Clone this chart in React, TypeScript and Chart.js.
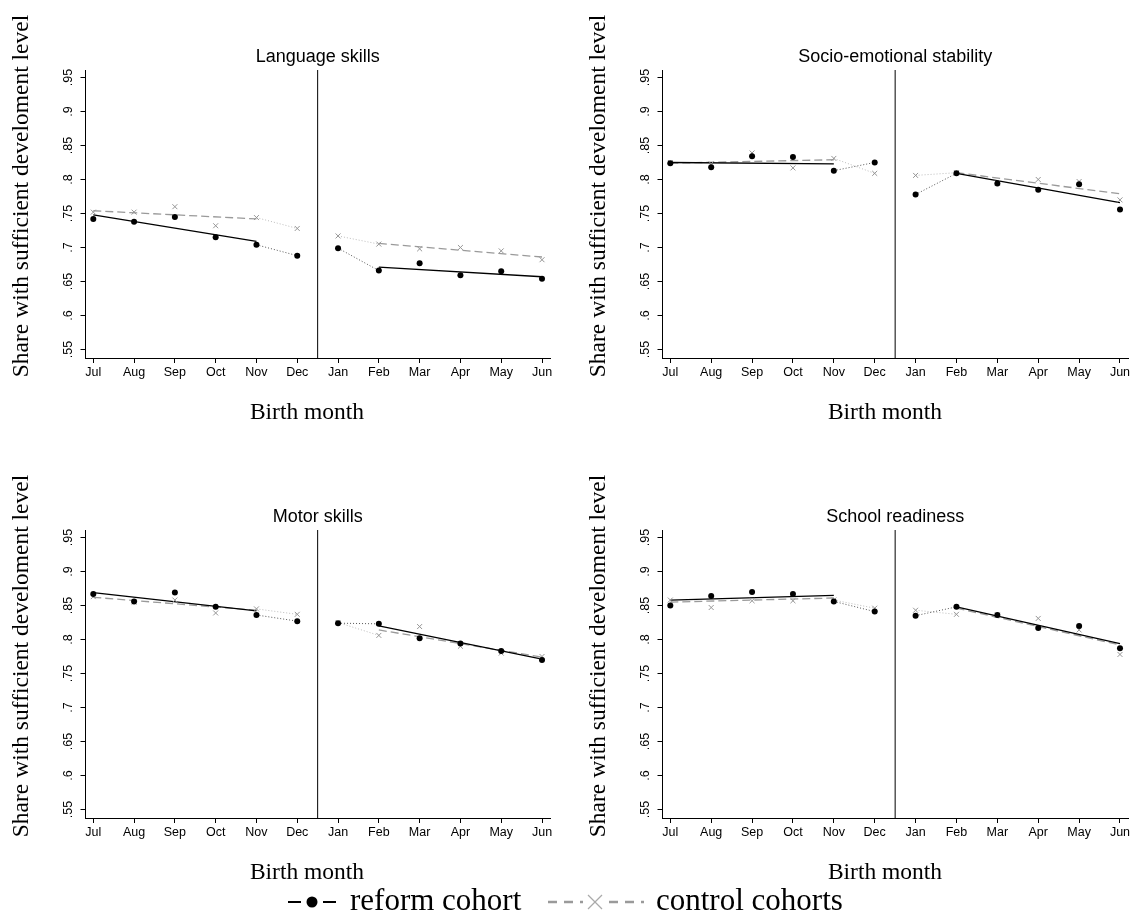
import React, { useEffect, useRef } from 'react';
import { Chart, registerables } from 'chart.js';

Chart.register(...registerables);

// ---------- data ----------
const months = ['Jul', 'Aug', 'Sep', 'Oct', 'Nov', 'Dec', 'Jan', 'Feb', 'Mar', 'Apr', 'May', 'Jun'];
const yTickValues = [0.55, 0.6, 0.65, 0.7, 0.75, 0.8, 0.85, 0.9, 0.95];
const yTickLabels = ['.55', '.6', '.65', '.7', '.75', '.8', '.85', '.9', '.95'];
// month indices at which the fitted lines start/end: Jul, Nov | Feb, Jun
const fitMonthIndex = [0, 4, 7, 11];

const panelTitles = ['Language skills', 'Socio-emotional stability', 'Motor skills', 'School readiness'];
const yTitle = 'Share with sufficient develoment level';
const xTitle = 'Birth month';
const legendLabels = ['reform cohort', 'control cohorts'];

const languageReform = [0.742, 0.738, 0.745, 0.715, 0.704, 0.688, 0.699, 0.666, 0.677, 0.659, 0.665, 0.654];
const languageControl = [0.752, 0.752, 0.760, 0.732, 0.744, 0.728, 0.717, 0.705, 0.698, 0.700, 0.695, 0.682];
const languageReformFit = [0.748, 0.709, 0.671, 0.657];
const languageControlFit = [0.754, 0.742, 0.706, 0.686];

const socioReform = [0.824, 0.818, 0.834, 0.833, 0.813, 0.825, 0.778, 0.809, 0.794, 0.785, 0.793, 0.756];
const socioControl = [0.825, 0.823, 0.839, 0.817, 0.831, 0.809, 0.806, 0.810, 0.795, 0.800, 0.797, 0.770];
const socioReformFit = [0.825, 0.823, 0.809, 0.766];
const socioControlFit = [0.824, 0.829, 0.810, 0.779];

const motorReform = [0.867, 0.856, 0.869, 0.848, 0.836, 0.827, 0.824, 0.823, 0.802, 0.794, 0.783, 0.770];
const motorControl = [0.863, 0.855, 0.858, 0.839, 0.845, 0.837, 0.825, 0.806, 0.819, 0.790, 0.780, 0.775];
const motorReformFit = [0.869, 0.842, 0.820, 0.771];
const motorControlFit = [0.862, 0.843, 0.814, 0.774];

const schoolReform = [0.850, 0.864, 0.870, 0.867, 0.856, 0.841, 0.835, 0.848, 0.836, 0.817, 0.820, 0.787];
const schoolControl = [0.858, 0.847, 0.857, 0.857, 0.858, 0.846, 0.843, 0.837, 0.836, 0.831, 0.814, 0.778];
const schoolReformFit = [0.858, 0.865, 0.848, 0.794];
const schoolControlFit = [0.855, 0.861, 0.846, 0.792];

// ---------- constants ----------
const Y_MIN = 0.5375;
const Y_MAX = 0.961;
const X_MIN = -0.191;
const X_MAX = 11.196;
const CUTOFF = 5.5;

const SANS = '"Liberation Sans", Arial, Helvetica, sans-serif';
const SERIF = '"Liberation Serif", "Times New Roman", serif';

type Spec = {
  title: string;
  reform: number[];
  control: number[];
  reformFit: number[];
  controlFit: number[];
};

const specs: Spec[] = [
  { title: panelTitles[0], reform: languageReform, control: languageControl, reformFit: languageReformFit, controlFit: languageControlFit },
  { title: panelTitles[1], reform: socioReform, control: socioControl, reformFit: socioReformFit, controlFit: socioControlFit },
  { title: panelTitles[2], reform: motorReform, control: motorControl, reformFit: motorReformFit, controlFit: motorControlFit },
  { title: panelTitles[3], reform: schoolReform, control: schoolControl, reformFit: schoolReformFit, controlFit: schoolControlFit },
];

const pts = (vals: number[]) => vals.map((y, i) => ({ x: i, y }));
const fitPts = (fit: number[]) => [
  { x: fitMonthIndex[0], y: fit[0] },
  { x: fitMonthIndex[1], y: fit[1] },
  { x: CUTOFF, y: null },
  { x: fitMonthIndex[2], y: fit[2] },
  { x: fitMonthIndex[3], y: fit[3] },
];
// dotted connectors for the months outside the fits (Nov–Dec, Jan–Feb)
const connPts = (vals: number[]) => [
  { x: 4, y: vals[4] },
  { x: 5, y: vals[5] },
  { x: CUTOFF, y: null },
  { x: 6, y: vals[6] },
  { x: 7, y: vals[7] },
];

function Panel({ spec, left, top, width, height, padRight, xTitleX }: any) {
  const ref = useRef<HTMLCanvasElement>(null);
  useEffect(() => {
    const textPlugin = {
      id: 'panelText',
      afterDraw(chart: any) {
        const { ctx, chartArea: a } = chart;
        ctx.save();
        ctx.fillStyle = '#000';
        ctx.textAlign = 'center';
        ctx.textBaseline = 'alphabetic';
        ctx.font = `18px ${SANS}`;
        ctx.fillText(spec.title, (a.left + a.right) / 2, a.top - 7.7);
        ctx.font = `23.5px ${SERIF}`;
        ctx.fillText(xTitle, xTitleX, a.bottom + 61);
        ctx.translate(27.5, 196);
        ctx.rotate(-Math.PI / 2);
        ctx.fillText(yTitle, 0, 0);
        ctx.restore();
      },
    };
    const chart = new Chart(ref.current as HTMLCanvasElement, {
      type: 'line',
      data: {
        datasets: [
          {
            label: 'reform points',
            data: pts(spec.reform),
            showLine: false,
            pointStyle: 'circle',
            pointRadius: 3,
            pointBackgroundColor: '#000',
            pointBorderColor: '#000',
            pointBorderWidth: 0,
            order: 0,
          },
          {
            label: 'control points',
            data: pts(spec.control),
            showLine: false,
            pointStyle: 'crossRot',
            pointRadius: 3.5,
            pointBorderColor: '#959595',
            pointBorderWidth: 1,
            order: 1,
          },
          {
            label: 'reform fit',
            data: fitPts(spec.reformFit),
            borderColor: '#000',
            borderWidth: 1.3,
            pointRadius: 0,
            spanGaps: false,
            order: 2,
          },
          {
            label: 'control fit',
            data: fitPts(spec.controlFit),
            borderColor: '#9a9a9a',
            borderWidth: 1.3,
            borderDash: [8, 4],
            pointRadius: 0,
            spanGaps: false,
            order: 3,
          },
          {
            label: 'reform connect',
            data: connPts(spec.reform),
            borderColor: '#555',
            borderWidth: 1,
            borderDash: [1, 2],
            pointRadius: 0,
            spanGaps: false,
            order: 4,
          },
          {
            label: 'control connect',
            data: connPts(spec.control),
            borderColor: '#bbb',
            borderWidth: 1,
            borderDash: [1, 2],
            pointRadius: 0,
            spanGaps: false,
            order: 5,
          },
          {
            label: 'cutoff',
            data: [
              { x: CUTOFF, y: Y_MIN },
              { x: CUTOFF, y: Y_MAX },
            ],
            borderColor: '#000',
            borderWidth: 1,
            pointRadius: 0,
            order: 6,
          },
        ] as any,
      },
      options: {
        responsive: false,
        animation: false,
        events: [],
        devicePixelRatio: 1,
        layout: { padding: { top: 70, right: padRight, bottom: 0, left: 0 } },
        plugins: { legend: { display: false }, tooltip: { enabled: false }, title: { display: false } },
        elements: { line: { tension: 0 } },
        scales: {
          x: {
            type: 'linear',
            min: X_MIN,
            max: X_MAX,
            afterBuildTicks: (s: any) => {
              s.ticks = months.map((_, i) => ({ value: i }));
            },
            afterFit: (s: any) => {
              s.height = height - 70 - 288;
            },
            ticks: {
              autoSkip: false,
              maxRotation: 0,
              minRotation: 0,
              padding: 2,
              color: '#000',
              font: { family: SANS, size: 12.5 },
              callback: (v: any) => months[Math.round(Number(v))] ?? '',
            },
            grid: { display: true, drawOnChartArea: false, drawTicks: true, tickLength: 5, color: '#000', lineWidth: 1 },
            border: { display: true, color: '#000', width: 1 },
          },
          y: {
            type: 'linear',
            min: Y_MIN,
            max: Y_MAX,
            afterBuildTicks: (s: any) => {
              s.ticks = yTickValues.map((v) => ({ value: v }));
            },
            afterFit: (s: any) => {
              s.width = 85.5;
            },
            ticks: {
              autoSkip: false,
              minRotation: 90,
              maxRotation: 90,
              crossAlign: 'center',
              padding: 3.5,
              color: '#000',
              font: { family: SANS, size: 12.5 },
              callback: (v: any) => {
                const i = yTickValues.findIndex((t) => Math.abs(t - Number(v)) < 1e-6);
                return i >= 0 ? yTickLabels[i] : '';
              },
            },
            grid: { display: true, drawOnChartArea: false, drawTicks: true, tickLength: 5, color: '#000', lineWidth: 1 },
            border: { display: true, color: '#000', width: 1 },
          },
        },
      } as any,
      plugins: [textPlugin],
    });
    return () => chart.destroy();
  }, []);
  return (
    <canvas
      ref={ref}
      width={width}
      height={height}
      style={{ position: 'absolute', left, top, width, height }}
    />
  );
}

function Legend() {
  const cy = 32;
  const base = 40;
  return (
    <svg width={1133} height={51} style={{ position: 'absolute', left: 0, top: 870 }}>
      <line x1={288} x2={301} y1={cy} y2={cy} stroke="#000" strokeWidth={2} />
      <line x1={323} x2={336} y1={cy} y2={cy} stroke="#000" strokeWidth={2} />
      <circle cx={312} cy={cy} r={5.5} fill="#000" />
      <text x={350} y={base} fontFamily={SERIF} fontSize={31} fill="#000">
        {legendLabels[0]}
      </text>
      <line x1={548} x2={583} y1={cy} y2={cy} stroke="#9a9a9a" strokeWidth={2.5} strokeDasharray="9 7" />
      <line x1={605} x2={644} y1={cy} y2={cy} stroke="#9a9a9a" strokeWidth={2.5} strokeDasharray="9 7" strokeDashoffset={-4} />
      <line x1={588} x2={602} y1={cy - 7} y2={cy + 7} stroke="#aaa" strokeWidth={1.3} />
      <line x1={588} x2={602} y1={cy + 7} y2={cy - 7} stroke="#aaa" strokeWidth={1.3} />
      <text x={656} y={base} fontFamily={SERIF} fontSize={31} fill="#000">
        {legendLabels[1]}
      </text>
    </svg>
  );
}

export default function App() {
  return (
    <div style={{ position: 'absolute', left: 0, top: 0, width: 1133, height: 921, background: '#fff', overflow: 'hidden' }}>
      <Panel spec={specs[0]} left={0} top={0} width={578} height={460} padRight={28} xTitleX={307} />
      <Panel spec={specs[1]} left={577} top={0} width={556} height={460} padRight={5} xTitleX={308} />
      <Panel spec={specs[2]} left={0} top={460} width={578} height={461} padRight={28} xTitleX={307} />
      <Panel spec={specs[3]} left={577} top={460} width={556} height={461} padRight={5} xTitleX={308} />
      <Legend />
    </div>
  );
}
